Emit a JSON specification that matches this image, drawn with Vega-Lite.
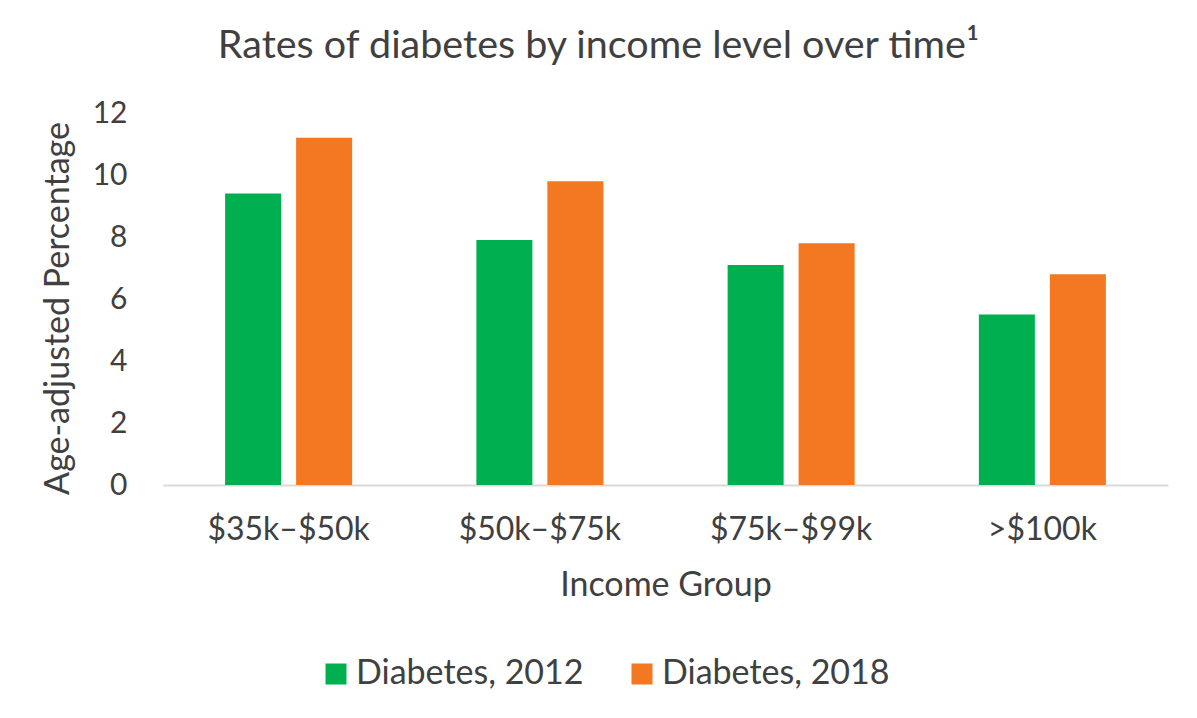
{
  "$schema": "https://vega.github.io/schema/vega-lite/v6.json",
  "width": 1005,
  "height": 372,
  "autosize": {"type": "none"},
  "padding": {"left": 163, "top": 113, "right": 29, "bottom": 233},
  "background": "white",
  "title": {
    "text": "Rates of diabetes by income level over time¹",
    "font": "Lato",
    "fontSize": 39.5,
    "fontWeight": "normal",
    "color": "#404040",
    "anchor": "middle",
    "frame": "group",
    "dx": -67,
    "baseline": "alphabetic",
    "offset": 1
  },
  "config": {
    "view": {"stroke": null},
    "font": "Lato"
  },
  "data": {
    "values": [
      {"group": "$35k–$50k", "series": "Diabetes, 2012", "value": 9.4},
      {"group": "$35k–$50k", "series": "Diabetes, 2018", "value": 11.2},
      {"group": "$50k–$75k", "series": "Diabetes, 2012", "value": 7.9},
      {"group": "$50k–$75k", "series": "Diabetes, 2018", "value": 9.8},
      {"group": "$75k–$99k", "series": "Diabetes, 2012", "value": 7.1},
      {"group": "$75k–$99k", "series": "Diabetes, 2018", "value": 7.8},
      {"group": ">$100k", "series": "Diabetes, 2012", "value": 5.5},
      {"group": ">$100k", "series": "Diabetes, 2018", "value": 6.8}
    ]
  },
  "mark": {"type": "bar"},
  "encoding": {
    "x": {
      "field": "group",
      "type": "nominal",
      "sort": ["$35k–$50k", "$50k–$75k", "$75k–$99k", ">$100k"],
      "scale": {"paddingInner": 0, "paddingOuter": 0},
      "axis": {
        "title": "Income Group",
        "titleFont": "Lato",
        "titleFontSize": 34,
        "titleFontWeight": "normal",
        "titleColor": "#404040",
        "titlePadding": 23,
        "labelFont": "Lato",
        "labelFontSize": 32,
        "labelColor": "#404040",
        "labelAngle": 0,
        "labelPadding": 29,
        "ticks": false,
        "domainColor": "#D9D9D9",
        "domainWidth": 2
      }
    },
    "xOffset": {
      "field": "series",
      "type": "nominal",
      "scale": {"paddingInner": 0.211, "paddingOuter": 0.875}
    },
    "y": {
      "field": "value",
      "type": "quantitative",
      "scale": {"domain": [0, 12]},
      "axis": {
        "title": "Age-adjusted Percentage",
        "titleFont": "Lato",
        "titleFontSize": 34,
        "titleFontWeight": "normal",
        "titleColor": "#404040",
        "titlePadding": 17,
        "titleY": 195,
        "labelFont": "Lato",
        "labelFontSize": 30,
        "labelColor": "#404040",
        "labelPadding": 36,
        "values": [0, 2, 4, 6, 8, 10, 12],
        "ticks": false,
        "domain": false,
        "grid": false
      }
    },
    "color": {
      "field": "series",
      "type": "nominal",
      "scale": {"domain": ["Diabetes, 2012", "Diabetes, 2018"], "range": ["#00B050", "#F47721"]},
      "legend": {
        "title": null,
        "orient": "none",
        "legendX": 156,
        "legendY": 544,
        "padding": 0,
        "direction": "horizontal",
        "symbolType": "square",
        "symbolSize": 441,
        "symbolStrokeWidth": 0,
        "labelFont": "Lato",
        "labelFontSize": 34,
        "labelColor": "#404040",
        "labelOffset": 3,
        "columnPadding": 41,
        "labelLimit": 400
      }
    }
  }
}
